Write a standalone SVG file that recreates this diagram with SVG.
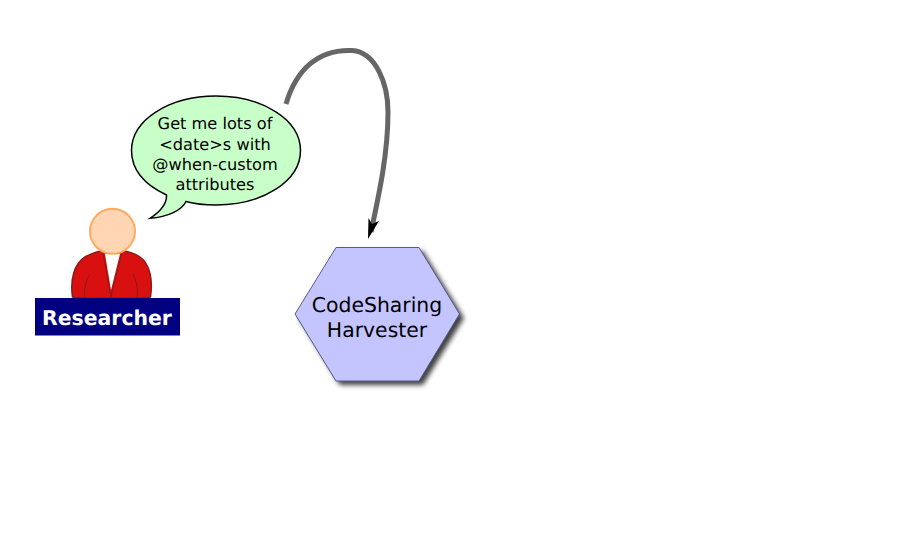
<svg xmlns="http://www.w3.org/2000/svg" width="900" height="539" viewBox="0 0 900 539">
<style>
text{font-family:"DejaVu Sans",sans-serif;text-anchor:middle;fill:#000;text-rendering:geometricPrecision}
.b{font-size:16.200px}
.h{font-size:20.400px}
.seam{fill:none;stroke:#8e1a1a;stroke-width:1}
</style>
<defs>
<filter id="soft" x="-10%" y="-10%" width="125%" height="125%"><feGaussianBlur stdDeviation="2.800"/></filter>
</defs>
<rect width="900" height="539" fill="#fff"/>
<g id="connectors">
<path d="M286,104 C296,70 318,49 352,50.500 C376,52 388,84 388,112 C388,152 380,190 371,232" fill="none" stroke="#666" stroke-width="5"/>
<path d="M368,239 L368.500,218 L372,224 L379,221 Z" fill="#000"/>
</g>
<g id="researcher">
<path d="M72.500,297 C70,280 74,264 85,257 C92,253 99,251 106,250 L120,250 C126,251 134,253 140,257 C150,264 153,280 150.500,297 Q148,298 111,298 Q75,298 72.500,297 Z" fill="#d91010" stroke="#8e1a1a" stroke-width="1.500"/>
<path d="M105,254 L120,254 L111,290 Z" fill="#fff"/>
<path d="M103,252 L110,292 L111,298 L112,292 L122,252" fill="none" stroke="#8e1a1a" stroke-width="1.200"/>
<path class="seam" d="M90,274 C85,282 84,290 85,298"/>
<path class="seam" d="M133,274 C137,282 138,290 137,298"/>
<circle cx="112.500" cy="231.300" r="22.500" fill="#ffd5b3" stroke="#ffa95e" stroke-width="2"/>
<rect x="35" y="298" width="145" height="37.500" fill="#000080"/>
<text x="107" y="324.500" font-size="20.400" font-weight="bold" style="fill:#fff">Researcher</text>
</g>
<g id="speech-bubble">
<path d="M166.500,195 C141,183 131.500,168 131.500,150.500 C131.500,120 169,96 216,96 C263,96 300.500,120 300.500,150.500 C300.500,181 263,205 216,205 C205,205 195,204 186,201.500 C182,210 168,217 150,218.300 C161,211 167,204 166.500,195 Z" fill="#c8ffc8" stroke="#000" stroke-width="1.500"/>
<text class="b" x="215" y="129">Get me lots of</text>
<text class="b" x="215" y="149.500">&lt;date&gt;s with</text>
<text class="b" x="215" y="170">@when-custom</text>
<text class="b" x="215" y="190">attributes</text>
</g>
<g id="harvester">
<polygon points="299,318 340,251 423,251 464,318 423,385 340,385" fill="#000" opacity="0.750" filter="url(#soft)"/>
<polygon points="295,314 336,247.500 419,247.500 459.500,314 419,381 336,381" fill="#c4c4ff" stroke="#5a5a8a" stroke-width="1"/>
<text class="h" x="377" y="312">CodeSharing</text>
<text class="h" x="377" y="337">Harvester</text>
</g>
</svg>
